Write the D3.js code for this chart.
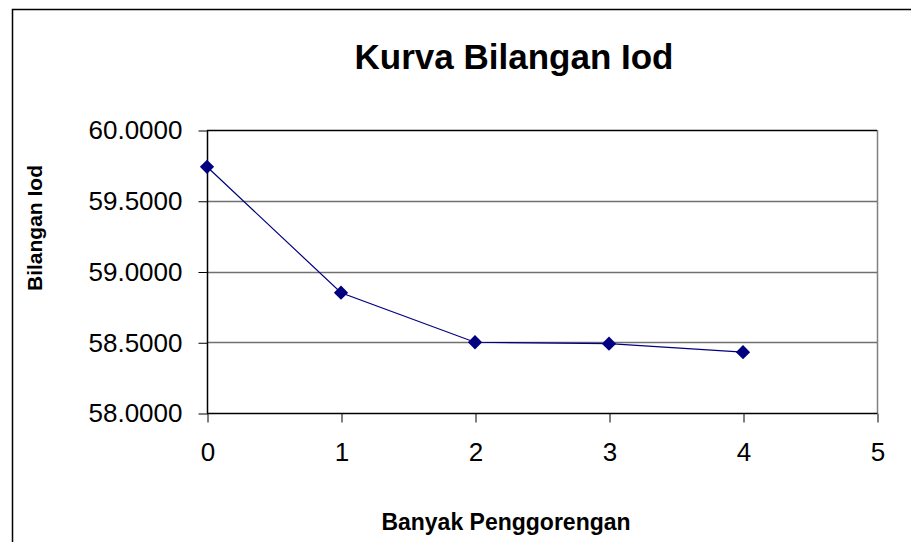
<!DOCTYPE html>
<html>
<head>
<meta charset="utf-8">
<script src="https://cdn.jsdelivr.net/npm/d3@7"></script>
<style>
  body { margin: 0; background: #fff; }
  text { font-family: "Liberation Sans", Arial, sans-serif; }
</style>
</head>
<body>
<div id="chart"></div>
<script>
    var penggorengan = [0, 1, 2, 3, 4];
    var bilanganIod = [59.74, 58.85, 58.50, 58.49, 58.43];
    var yTicks = [58.0, 58.5, 59.0, 59.5, 60.0];
    var xTicks = [0, 1, 2, 3, 4, 5];

    var W = 911, H = 542;
    var plotL = 207, plotR = 877, plotT = 130, plotB = 413;

    var svg = d3.select("#chart")
                .append("svg")
                .attr("width", W)
                .attr("height", H);

    // outer chart border (runs past the window)
    svg.append("rect")
       .attr("x", 12.5).attr("y", 9.5)
       .attr("width", 1000).attr("height", 1000)
       .attr("fill", "#fff")
       .attr("stroke", "#000")
       .attr("stroke-width", 1.5);

    var x = d3.scaleLinear().domain([0, 5]).range([plotL, plotR]);
    var y = d3.scaleLinear().domain([58, 60]).range([plotB, plotT]);

    // plot area right border
    svg.append("line")
       .attr("x1", plotR + 0.5).attr("x2", plotR + 0.5)
       .attr("y1", plotT).attr("y2", plotB)
       .attr("stroke", "#808080")
       .attr("stroke-width", 1.5);

    // gridlines
    svg.selectAll(".grid")
       .data(yTicks.filter(function(d){ return d > 58; }))
       .enter()
       .append("line")
         .attr("x1", plotL).attr("x2", plotR)
         .attr("y1", function(d){ return Math.round(y(d)) + 0.5; })
         .attr("y2", function(d){ return Math.round(y(d)) + 0.5; })
         .attr("stroke", function(d){ return d == 60 ? "#000" : "#707070"; })
         .attr("stroke-width", 1.3);

    var yAxis = d3.axisLeft(y)
                  .tickValues(yTicks)
                  .tickSize(9)
                  .tickPadding(16)
                  .tickFormat(d3.format(".4f"));
    var gy = svg.append("g")
                .attr("transform", "translate(" + (plotL + 0.5) + ",0.5)")
                .call(yAxis);

    var xAxis = d3.axisBottom(x)
                  .tickValues(xTicks)
                  .tickSize(9)
                  .tickPadding(20)
                  .tickFormat(d3.format("d"));
    var gx = svg.append("g")
                .attr("transform", "translate(0.5," + (plotB + 0.5) + ")")
                .call(xAxis);

    [gx, gy].forEach(function(g){
        g.select(".domain").attr("stroke", "#000").attr("stroke-width", 1.5);
        g.selectAll(".tick line").attr("stroke", "#000");
        g.selectAll(".tick text")
         .attr("fill", "#000")
         .style("font-size", "26px")
         .style("font-family", "'Liberation Sans', Arial, sans-serif");
    });
    gx.select(".domain").attr("d", "M" + (plotL - 0.5) + ",0H" + plotR);
    gy.select(".domain").attr("d", "M0," + plotB + "V" + plotT);

    var pts = penggorengan.map(function(d, i){ return [d, bilanganIod[i]]; });

    svg.append("path")
       .datum(pts)
       .attr("fill", "none")
       .attr("stroke", "#000080")
       .attr("stroke-width", 1.2)
       .attr("d", d3.line()
                    .x(function(d){ return x(d[0]); })
                    .y(function(d){ return y(d[1]); }));

    svg.selectAll(".marker")
       .data(pts)
       .enter()
       .append("path")
         .attr("class", "marker")
         .attr("d", d3.symbol().type(d3.symbolDiamond2).size(130))
         .attr("transform", function(d){
             return "translate(" + x(d[0]) + "," + y(d[1]) + ")";
         })
         .attr("fill", "#000080");

    svg.append("text")
       .text("Kurva Bilangan Iod")
       .attr("x", 514).attr("y", 69)
       .attr("text-anchor", "middle")
       .style("font-size", "35px")
       .style("font-weight", "bold");

    svg.append("text")
       .text("Bilangan Iod")
       .attr("transform", "translate(42,228) rotate(-90)")
       .attr("text-anchor", "middle")
       .style("font-size", "21px")
       .style("font-weight", "bold");

    svg.append("text")
       .text("Banyak Penggorengan")
       .attr("x", 506).attr("y", 530)
       .attr("text-anchor", "middle")
       .style("font-size", "23px")
       .style("font-weight", "bold");
</script>
</body>
</html>
